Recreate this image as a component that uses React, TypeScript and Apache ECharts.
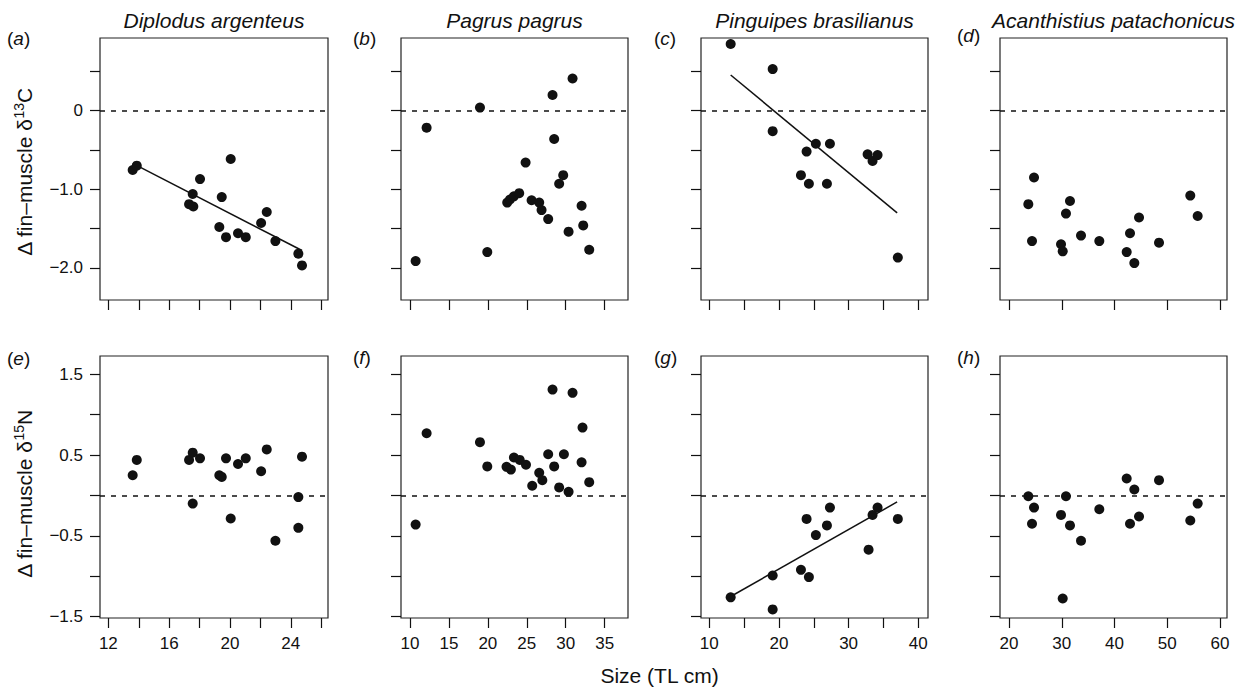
import React, { useEffect, useRef } from "react";
import * as echarts from "echarts";

// ---- Data ----
const speciesNames = ["Diplodus argenteus", "Pagrus pagrus", "Pinguipes brasilianus", "Acanthistius patachonicus"];
const topLetters = ["a", "b", "c", "d"];
const bottomLetters = ["e", "f", "g", "h"];

// (a) Diplodus argenteus, Δδ13C
const aX = [13.6, 13.87, 17.55, 17.31, 17.59, 18.03, 20.05, 19.46, 19.3, 19.74, 20.53, 21.04, 22.05, 22.42, 22.99, 24.5, 24.74];
const aY = [-0.755, -0.7, -1.06, -1.19, -1.22, -0.87, -0.615, -1.1, -1.48, -1.61, -1.56, -1.61, -1.43, -1.29, -1.66, -1.82, -1.97];
const aFit = [[13.6, -0.67], [24.74, -1.78]];

// (e) Diplodus argenteus, Δδ15N
const eX = [13.6, 13.87, 17.31, 17.55, 18.03, 17.55, 19.3, 19.46, 19.74, 20.05, 20.53, 21.04, 22.05, 22.42, 22.99, 24.5, 24.5, 24.74];
const eY = [0.25, 0.44, 0.44, 0.53, 0.46, -0.1, 0.25, 0.23, 0.46, -0.285, 0.39, 0.46, 0.3, 0.57, -0.56, -0.02, -0.4, 0.48];

// (b) Pagrus pagrus, Δδ13C
const bX = [10.73, 12.14, 18.99, 19.93, 22.49, 22.84, 23.35, 24.03, 24.85, 25.62, 26.6, 26.9, 27.75, 28.31, 28.52, 29.16, 29.68, 30.37, 30.88, 32.04, 32.25, 33.02];
const bY = [-1.915, -0.216, 0.04, -1.8, -1.17, -1.13, -1.09, -1.05, -0.66, -1.14, -1.17, -1.265, -1.38, 0.2, -0.36, -0.93, -0.82, -1.54, 0.41, -1.21, -1.46, -1.77];

// (f) Pagrus pagrus, Δδ15N
const fX = [10.73, 12.14, 18.99, 19.93, 22.4, 22.96, 23.35, 24.1, 24.9, 25.7, 26.6, 27.0, 27.75, 28.31, 28.52, 29.16, 29.77, 30.37, 30.88, 32.16, 32.04, 33.02];
const fY = [-0.36, 0.77, 0.66, 0.36, 0.355, 0.32, 0.47, 0.44, 0.38, 0.12, 0.28, 0.19, 0.51, 1.31, 0.36, 0.1, 0.51, 0.045, 1.27, 0.84, 0.41, 0.165];

// (c) Pinguipes brasilianus, Δδ13C
const cX = [13.07, 19.1, 19.1, 23.16, 23.97, 24.3, 25.3, 26.89, 27.32, 32.73, 33.44, 34.16, 37.07];
const cY = [0.85, 0.53, -0.26, -0.82, -0.52, -0.93, -0.42, -0.93, -0.42, -0.555, -0.64, -0.565, -1.87];
const cFit = [[13.07, 0.455], [36.97, -1.3]];

// (g) Pinguipes brasilianus, Δδ15N
const gX = [13.07, 19.1, 19.1, 23.16, 23.97, 24.3, 25.3, 26.89, 27.32, 32.87, 33.44, 34.16, 37.07];
const gY = [-1.26, -0.99, -1.41, -0.92, -0.29, -1.01, -0.49, -0.37, -0.15, -0.67, -0.24, -0.15, -0.29];
const gFit = [[13.07, -1.25], [36.97, -0.08]];

// (d) Acanthistius patachonicus, Δδ13C
const dX = [23.66, 24.74, 24.36, 29.86, 30.18, 30.8, 31.56, 33.65, 37.12, 42.31, 42.94, 43.76, 44.65, 48.44, 54.37, 55.77];
const dY = [-1.19, -0.85, -1.66, -1.7, -1.79, -1.31, -1.15, -1.59, -1.66, -1.8, -1.56, -1.94, -1.36, -1.68, -1.08, -1.34];

// (h) Acanthistius patachonicus, Δδ15N
const hX = [23.66, 24.74, 24.36, 29.86, 30.18, 30.8, 31.56, 33.65, 37.12, 42.31, 42.94, 43.76, 44.65, 48.44, 54.37, 55.77];
const hY = [-0.01, -0.15, -0.35, -0.24, -1.275, -0.01, -0.37, -0.56, -0.17, 0.21, -0.35, 0.074, -0.26, 0.19, -0.31, -0.1];

// Axis scales
const xRanges = [[11.45, 26.45], [8.85, 38.0], [8.81, 41.4], [18.29, 61.33]];
const xTicks = [
  [12, 14, 16, 18, 20, 22, 24, 26],
  [10, 15, 20, 25, 30, 35],
  [10, 15, 20, 25, 30, 35, 40],
  [20, 30, 40, 50, 60],
];
const xLabels = [
  [12, 16, 20, 24],
  [10, 15, 20, 25, 30, 35],
  [10, 20, 30, 40],
  [20, 30, 40, 50, 60],
];
const topYRange = [-2.41, 0.926];
const topYTicks = [-2, -1.5, -1, -0.5, 0, 0.5];
const topYLabels = [-2, -1, 0];
const botYRange = [-1.516, 1.726];
const botYTicks = [-1.5, -1, -0.5, 0, 0.5, 1, 1.5];
const botYLabels = [-1.5, -0.5, 0.5, 1.5];

const xAxisTitle = "Size (TL cm)";

const zip = (xs: number[], ys: number[]) => xs.map((x, i) => [x, ys[i]]);

export default function App() {
  const ref = useRef<HTMLDivElement>(null);

  useEffect(() => {
    if (!ref.current) return;
    const chart = echarts.init(ref.current, undefined, { renderer: "svg" });

    const ink = "#111";
    const font = "'Liberation Sans', Arial, Helvetica, sans-serif";
    const lefts = [100, 401, 701, 1000];
    const widths = [228, 227, 227, 227];
    const tops = [38, 356];
    const H = 262;

    const panels = [
      { data: zip(aX, aY), fit: aFit },
      { data: zip(bX, bY), fit: null },
      { data: zip(cX, cY), fit: cFit },
      { data: zip(dX, dY), fit: null },
      { data: zip(eX, eY), fit: null },
      { data: zip(fX, fY), fit: null },
      { data: zip(gX, gY), fit: gFit },
      { data: zip(hX, hY), fit: null },
    ];

    const grids: any[] = [];
    const xAxes: any[] = [];
    const yAxes: any[] = [];
    const series: any[] = [];

    const fmtY = (top: boolean) => (v: number) => {
      if (top && v === 0) return "0";
      const s = v.toFixed(1);
      return s.replace("-", "\u2212");
    };

    panels.forEach((p, i) => {
      const row = i < 4 ? 0 : 1;
      const col = i % 4;
      grids.push({
        left: lefts[col],
        top: tops[row],
        width: widths[col],
        height: H,
        show: true,
        borderColor: "#222",
        borderWidth: 1.2,
        backgroundColor: "transparent",
      });
      xAxes.push({
        type: "value",
        gridIndex: i,
        position: "bottom",
        min: xRanges[col][0],
        max: xRanges[col][1],
        axisLine: { show: false, onZero: false },
        splitLine: { show: false },
        axisTick: {
          show: true,
          inside: false,
          length: 10,
          lineStyle: { color: ink, width: 1.2 },
          customValues: xTicks[col],
        },
        axisLabel: {
          show: row === 1,
          margin: 17,
          color: ink,
          fontSize: 17,
          fontFamily: font,
          customValues: xLabels[col],
          formatter: (v: number) => String(v),
        },
      });
      const top = row === 0;
      yAxes.push({
        type: "value",
        gridIndex: i,
        position: "left",
        min: top ? topYRange[0] : botYRange[0],
        max: top ? topYRange[1] : botYRange[1],
        axisLine: { show: false, onZero: false },
        splitLine: { show: false },
        axisTick: {
          show: true,
          inside: false,
          length: 10,
          lineStyle: { color: ink, width: 1.2 },
          customValues: top ? topYTicks : botYTicks,
        },
        axisLabel: {
          show: col === 0,
          margin: 17,
          color: ink,
          fontSize: 17,
          fontFamily: font,
          customValues: top ? topYLabels : botYLabels,
          formatter: fmtY(top),
        },
      });
      series.push({
        type: "scatter",
        xAxisIndex: i,
        yAxisIndex: i,
        data: p.data,
        symbol: "circle",
        symbolSize: 10,
        itemStyle: { color: ink, opacity: 1 },
        z: 3,
        markLine: {
          silent: true,
          symbol: ["none", "none"],
          label: { show: false },
          lineStyle: { color: ink, type: [5, 6], width: 1.5, opacity: 1 },
          data: [{ yAxis: 0 }],
        },
      });
      if (p.fit) {
        series.push({
          type: "line",
          xAxisIndex: i,
          yAxisIndex: i,
          data: p.fit,
          symbol: "none",
          lineStyle: { color: ink, width: 1.5 },
          z: 2,
        });
      }
    });

    const graphics: any[] = [];
    // titles
    speciesNames.forEach((name, col) => {
      graphics.push({
        type: "text",
        x: lefts[col] + widths[col] / 2,
        y: 20,
        style: {
          text: name,
          fontSize: 21,
          fontStyle: "italic",
          fontFamily: font,
          fill: ink,
          align: "center",
          verticalAlign: "middle",
        },
      });
    });
    // panel letters
    const letterX = [7, 353, 654, 957];
    const letterY = [[38, 38, 38, 35], [358, 357, 357, 357]];
    [topLetters, bottomLetters].forEach((letters, row) => {
      letters.forEach((L, col) => {
        graphics.push({
          type: "text",
          x: letterX[col],
          y: letterY[row][col],
          style: {
            text: "(" + "{i|" + L + "})",
            rich: { i: { fontStyle: "italic", fontSize: 19, fontFamily: font, fill: ink } },
            fontSize: 19,
            fontFamily: font,
            fill: ink,
            align: "left",
            verticalAlign: "middle",
          },
        });
      });
    });
    // y axis names
    const yNames = [
      { y: 172, iso: "13" },
      { y: 494, iso: "15" },
    ];
    yNames.forEach((n, r) => {
      graphics.push({
        type: "text",
        x: 24,
        y: n.y,
        rotation: Math.PI / 2,
        style: {
          text: "{m|\u0394 fin\u2013muscle \u03b4}{s|" + n.iso + "}{m|" + (r === 0 ? "C" : "N") + "}",
          rich: {
            m: { fontSize: 21, fontFamily: font, fill: ink, lineHeight: 25 },
            s: { fontSize: 14, fontFamily: font, fill: ink, verticalAlign: "top", lineHeight: 25 },
          },
          align: "center",
          verticalAlign: "middle",
        },
      });
    });
    // x axis name
    graphics.push({
      type: "text",
      x: 659.5,
      y: 675,
      style: {
        text: xAxisTitle,
        fontSize: 21,
        fontFamily: font,
        fill: ink,
        align: "center",
        verticalAlign: "middle",
      },
    });

    chart.setOption({
      animation: false,
      backgroundColor: "#fff",
      grid: grids,
      xAxis: xAxes,
      yAxis: yAxes,
      series,
      graphic: graphics,
    });

    return () => chart.dispose();
  }, []);

  return (
    <div
      ref={ref}
      style={{ position: "fixed", left: 0, top: 0, width: 1241, height: 688, background: "#fff" }}
    />
  );
}
